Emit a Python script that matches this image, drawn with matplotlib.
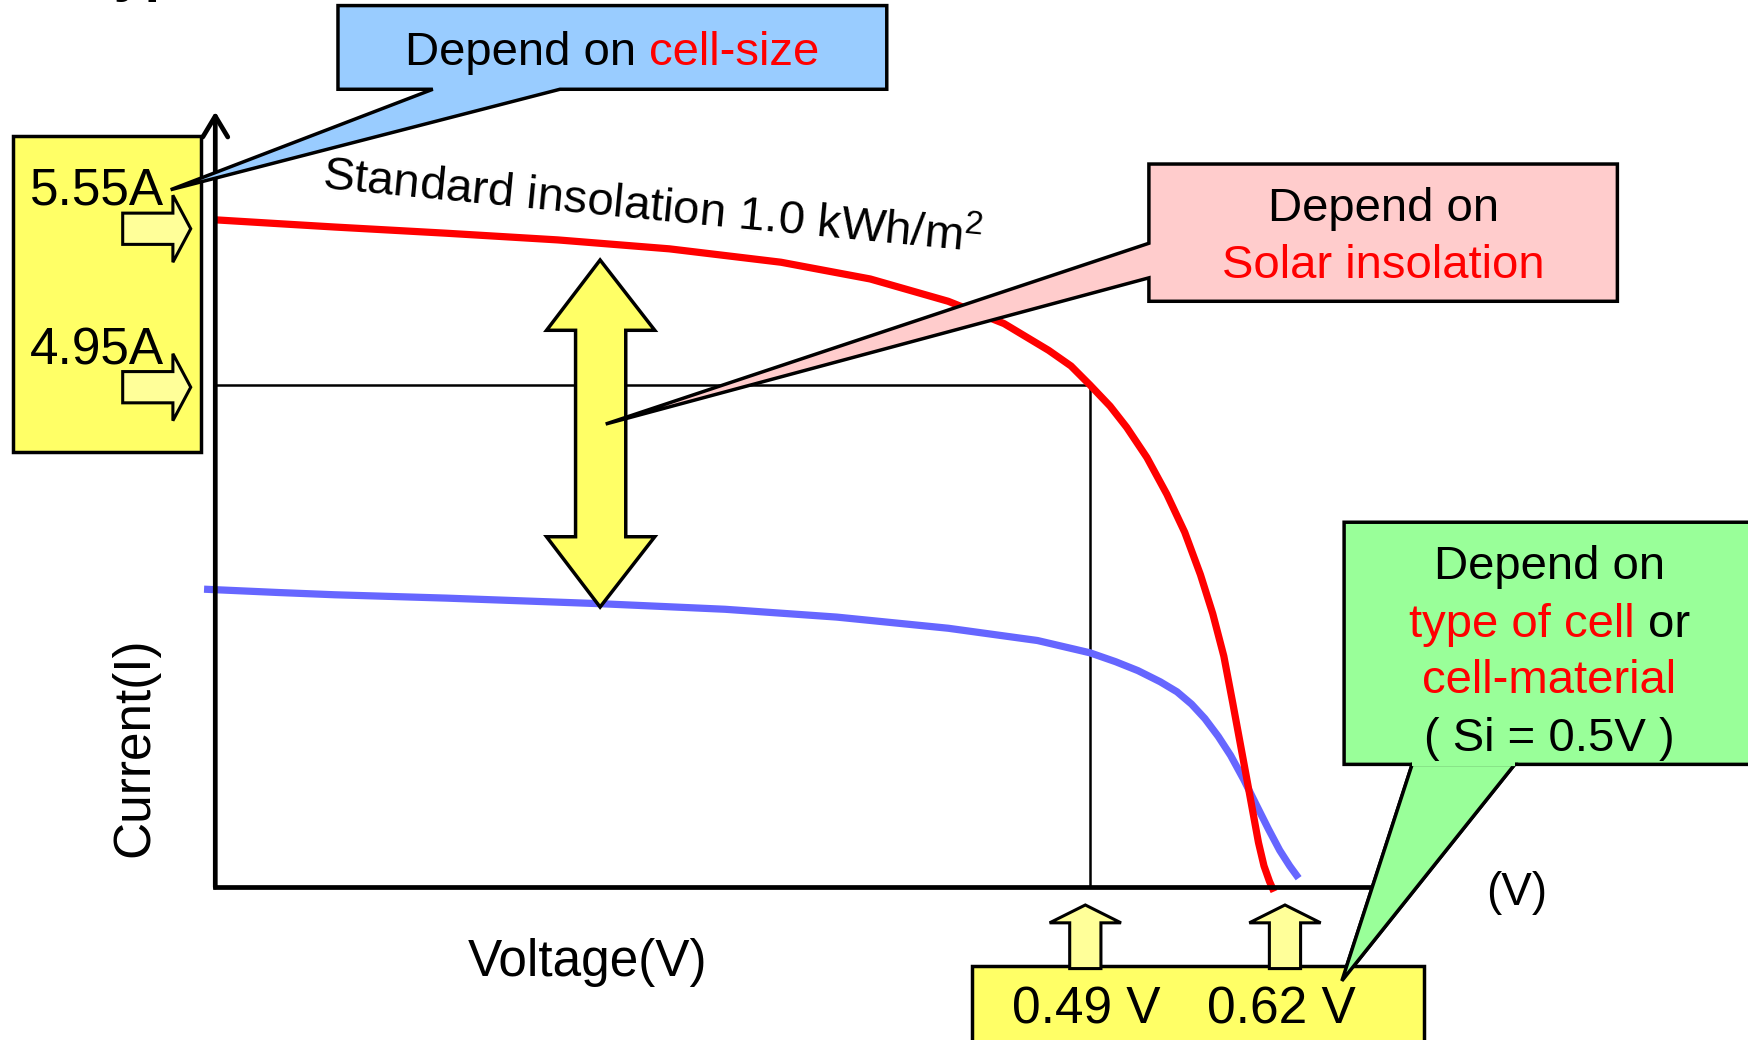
import matplotlib
matplotlib.use("Agg")
import matplotlib.pyplot as plt
from matplotlib.patches import Polygon, Rectangle

plt.rcParams["font.family"] = ["Liberation Sans", "DejaVu Sans"]
plt.rcParams["mathtext.fontset"] = "custom"
plt.rcParams["mathtext.rm"] = "Liberation Sans"
plt.rcParams["mathtext.it"] = "Liberation Sans:italic"

# I-V curves (voltage in V, current scaled to the 4.95 A line)
std_v = [0.0, 0.0356, 0.0669, 0.1294, 0.1919, 0.2544, 0.3169, 0.3669, 0.4106, 0.4419,
         0.4669, 0.4794, 0.4900, 0.5013, 0.5106, 0.5219, 0.5331, 0.5431, 0.5519, 0.5588,
         0.5650, 0.5700, 0.5744, 0.5781, 0.5813, 0.5844, 0.5875, 0.5906, 0.5931]
std_i = [6.578, 6.540, 6.507, 6.446, 6.380, 6.292, 6.160, 5.995, 5.775, 5.555,
         5.291, 5.137, 4.950, 4.741, 4.532, 4.235, 3.872, 3.498, 3.080, 2.695,
         2.277, 1.815, 1.397, 1.045, 0.737, 0.440, 0.209, 0.055, -0.044]

low_v = [-0.0063, 0.0356, 0.0669, 0.1294, 0.2156, 0.2856, 0.3481, 0.4106, 0.4606, 0.4900,
         0.5044, 0.5169, 0.5294, 0.5388, 0.5469, 0.5544, 0.5619, 0.5688, 0.5763, 0.5831,
         0.5900, 0.5963, 0.6019, 0.6069]
low_i = [2.937, 2.904, 2.882, 2.849, 2.794, 2.739, 2.662, 2.552, 2.431, 2.310,
         2.222, 2.134, 2.024, 1.925, 1.804, 1.661, 1.485, 1.298, 1.056, 0.814,
         0.572, 0.363, 0.209, 0.088]

vmp, imp = 0.49, 4.95
current_labels = ["5.55A", "4.95A"]
voltage_labels = ["0.49 V", "0.62 V"]

V_MAX, I_MAX = 0.648, 7.645
W, H = 1568, 932          # layout units (reference preview size)

RED = "#FF0000"
BLUE = "#6666FF"
YELLOW = "#FFFF66"
PALE = "#FFFF99"

fig = plt.figure(figsize=(17.49, 10.40), dpi=100)
fig.patch.set_facecolor("white")

# chart area
ax = fig.add_axes([193 / W, 1 - 795 / H, (1230 - 193) / W, (795 - 100) / H])
ax.set_xlim(0, V_MAX)
ax.set_ylim(0, I_MAX)
ax.axis("off")

ax.plot([0, vmp, vmp], [imp, imp, 0], color="black", lw=1.8, zorder=1)
ax.plot(low_v, low_i, color=BLUE, lw=5.2, clip_on=False, zorder=2,
        solid_joinstyle="round", solid_capstyle="butt")
ax.plot(std_v, std_i, color=RED, lw=5.2, clip_on=False, zorder=3,
        solid_joinstyle="round", solid_capstyle="butt")

ax.plot([0, 1], [0, 0], transform=ax.transAxes, color="black", lw=3.4,
        clip_on=False, solid_capstyle="projecting", zorder=4)
ax.annotate("", xy=(0, 1), xytext=(0, 0), xycoords="axes fraction",
            arrowprops=dict(arrowstyle="->,head_length=0.5,head_width=0.3",
                            lw=3.4, color="black", shrinkA=0, shrinkB=0,
                            mutation_scale=30), zorder=4)

# overlay for callouts and labels
ov = fig.add_axes([0, 0, 1, 1])
ov.set_xlim(0, W)
ov.set_ylim(H, 0)
ov.axis("off")


def shape(pts, fc, lw=2.5):
    ov.add_patch(Polygon(pts, closed=True, fc=fc, ec="black", lw=lw, joinstyle="miter"))


def right_arrow(x0, yc, tip):
    hx = tip - 16
    shape([(x0, yc - 14), (hx, yc - 14), (hx, yc - 30), (tip, yc),
           (hx, yc + 30), (hx, yc + 14), (x0, yc + 14)], PALE, lw=2.2)


def up_arrow(xc, tip, bottom):
    hy = tip + 16
    shape([(xc - 14, bottom), (xc - 14, hy), (xc - 32, hy), (xc, tip),
           (xc + 32, hy), (xc + 14, hy), (xc + 14, bottom)], PALE, lw=2.2)


def rich(x, y, parts, size):
    r = fig.canvas.get_renderer()
    arts = [ov.text(x, y, s, color=c, fontsize=size, ha="left", va="baseline")
            for s, c in parts]
    widths = [a.get_window_extent(r).width for a in arts]
    space = 0.278 * size * fig.dpi / 72
    k = W / fig.bbox.width
    cur = x - (sum(widths) + space * (len(parts) - 1)) * k / 2
    for a, w in zip(arts, widths):
        a.set_x(cur)
        cur += (w + space) * k


# cut-off title at the very top
ov.text(75, -9, "Typical I-V Curve", fontsize=40, fontweight="bold", va="baseline")

# left current box
ov.add_patch(Rectangle((12, 122), 168, 283, fc=YELLOW, ec="black", lw=2.5))
ov.text(87, 183, current_labels[0], fontsize=37, ha="center", va="baseline")
ov.text(87, 327, current_labels[1], fontsize=37, ha="center", va="baseline")
right_arrow(110, 205, 171)
right_arrow(110, 347, 171)

# blue callout: cell size
shape([(303, 5), (795, 5), (795, 80), (502, 80), (153, 170), (388, 80), (303, 80)], "#99CCFF")
rich(549, 58, [("Depend on", "black"), ("cell-size", RED)], 34)

ov.text(584, 198, "Standard insolation 1.0 kWh/m$^2$", fontsize=34, rotation=-5.5,
        rotation_mode="anchor", ha="center", va="baseline")

# double arrow between the two curves
shape([(538, 233), (587, 296), (561, 296), (561, 481), (587, 481), (538, 544),
       (490, 481), (516, 481), (516, 296), (490, 296)], YELLOW)

# pink callout: insolation
shape([(1030, 147), (1450, 147), (1450, 270), (1030, 270), (1030, 249),
       (543, 380), (1030, 218)], "#FFCCCC")
rich(1240, 198, [("Depend on", "black")], 34)
rich(1240, 249, [("Solar insolation", RED)], 34)

# green callout: cell type
shape([(1205, 468), (1600, 468), (1600, 685), (1358, 685), (1203, 879),
       (1266, 685), (1205, 685)], "#99FF99")

# bottom voltage box
ov.add_patch(Rectangle((871, 866), 406, 90, fc=YELLOW, ec="black", lw=2.5))
up_arrow(973, 811, 868)
up_arrow(1152, 811, 868)
ov.text(974, 917, voltage_labels[0], fontsize=37, ha="center", va="baseline")
ov.text(1149, 917, voltage_labels[1], fontsize=37, ha="center", va="baseline")

# green pointer drawn above the voltage box
shape([(1266, 685), (1203, 879), (1358, 685)], "#99FF99")
ov.plot([1266, 1358], [685, 685], color="#99FF99", lw=3, solid_capstyle="butt")

rich(1389, 519, [("Depend on", "black")], 34)
rich(1389, 571, [("type of cell", RED), ("or", "black")], 34)
rich(1389, 621, [("cell-material", RED)], 34)
rich(1389, 673, [("( Si = 0.5V )", "black")], 34)

ov.text(1360, 811, "(V)", fontsize=33, ha="center", va="baseline")
ov.text(527, 875, "Voltage(V)", fontsize=37, ha="center", va="baseline")
ov.text(133, 670, "Current(I)", fontsize=37, rotation=90, rotation_mode="anchor",
        ha="center", va="baseline")

fig.savefig("out.png", dpi=100, facecolor="white")
